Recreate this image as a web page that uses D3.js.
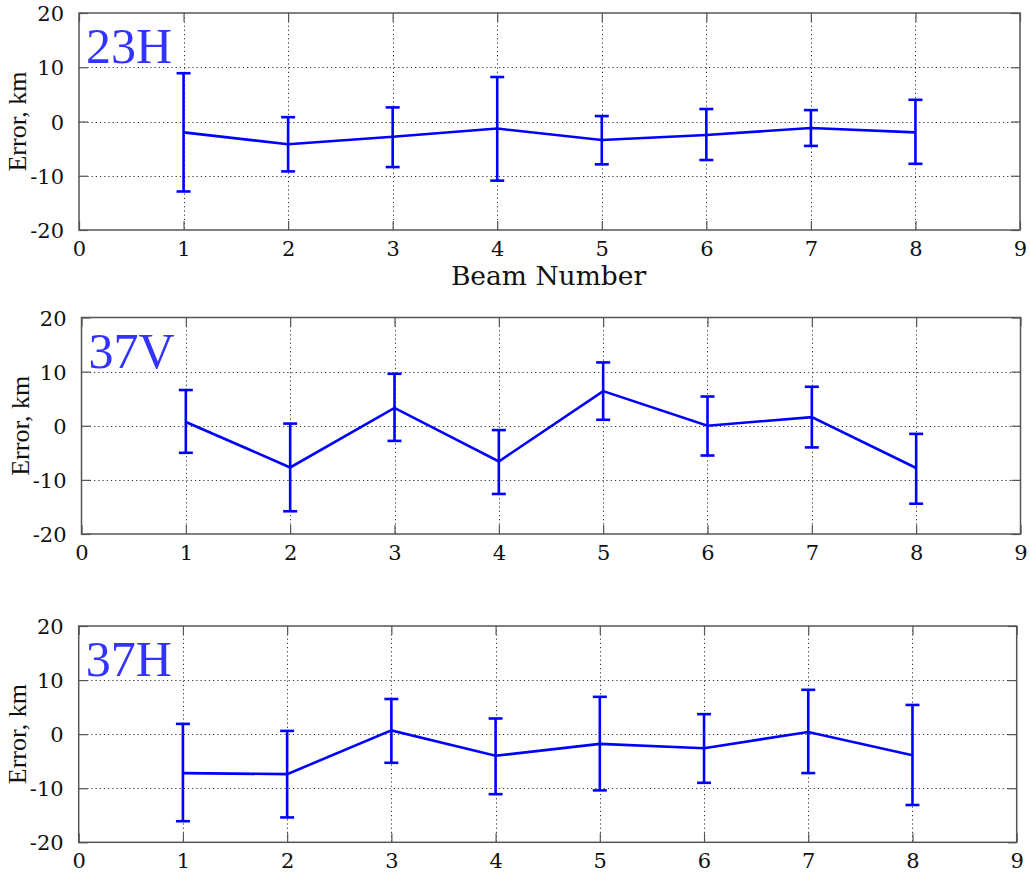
<!DOCTYPE html>
<html>
<head>
<meta charset="utf-8">
<script src="https://cdn.jsdelivr.net/npm/d3@7"></script>
<style>
  html, body { margin: 0; padding: 0; background: #fff; }
  svg { display: block; }
</style>
</head>
<body>
<svg id="chart" width="1030" height="878"></svg>
<script>
// ---- Data ----
const beams = [1, 2, 3, 4, 5, 6, 7, 8];
const xTickValues = [0, 1, 2, 3, 4, 5, 6, 7, 8, 9];
const yTickValues = [-20, -10, 0, 10, 20];
const panelNames = ["23H", "37V", "37H"];

const mean23H  = [-2.0, -4.2, -2.8, -1.3, -3.4, -2.5, -1.2, -2.0];
const upper23H = [8.9, 0.8, 2.6, 8.2, 1.0, 2.3, 2.1, 4.0];
const lower23H = [-12.9, -9.2, -8.4, -10.9, -7.9, -7.1, -4.5, -7.8];

const mean37V  = [0.7, -7.7, 3.3, -6.6, 6.4, 0.0, 1.6, -7.8];
const upper37V = [6.6, 0.4, 9.6, -0.8, 11.7, 5.4, 7.2, -1.5];
const lower37V = [-5.0, -15.8, -2.8, -12.6, 1.1, -5.5, -4.0, -14.4];

const mean37H  = [-7.2, -7.4, 0.7, -4.0, -1.8, -2.6, 0.4, -3.9];
const upper37H = [1.9, 0.6, 6.5, 2.9, 6.9, 3.7, 8.2, 5.4];
const lower37H = [-16.1, -15.4, -5.3, -11.1, -10.4, -9.0, -7.2, -13.1];

const yLabel = "Error, km";
const xLabel = "Beam Number";

// ---- Layout (pixel frames for each panel) ----
const frames = [
  { x0: 79,   x1: 1020, y0: 13,    y1: 230,   xlabel: true },
  { x0: 81.5, x1: 1020.5, y0: 317.5, y1: 534, xlabel: false },
  { x0: 78.7, x1: 1016.7, y0: 626,  y1: 842.3, xlabel: false }
];
const seriesList = [
  { mean: mean23H, upper: upper23H, lower: lower23H },
  { mean: mean37V, upper: upper37V, lower: lower37V },
  { mean: mean37H, upper: upper37H, lower: lower37H }
];

const svg = d3.select("#chart");
const tickFont = "'DejaVu Serif', serif";
const frameColor = "#555";
const fmt = d => String(d); // plain hyphen minus like the reference

frames.forEach((f, i) => {
  const s = seriesList[i];
  const x = d3.scaleLinear().domain([0, 9]).range([f.x0, f.x1]);
  const y = d3.scaleLinear().domain([-20, 20]).range([f.y1, f.y0]);
  const g = svg.append("g");

  // grid
  const grid = g.append("g").attr("stroke", "#333").attr("stroke-width", 1)
    .attr("stroke-dasharray", "1.2,3");
  grid.selectAll("line.vx").data(xTickValues.slice(1, -1)).join("line")
    .attr("x1", d => Math.round(x(d)) + 0.5).attr("x2", d => Math.round(x(d)) + 0.5)
    .attr("y1", f.y0).attr("y2", f.y1);
  grid.selectAll("line.hy").data(yTickValues.slice(1, -1)).join("line")
    .attr("x1", f.x0).attr("x2", f.x1)
    .attr("y1", d => Math.round(y(d)) + 0.5).attr("y2", d => Math.round(y(d)) + 0.5);

  // axes (ticks inward)
  const tl = 9;
  const axB = g.append("g").attr("transform", `translate(0,${f.y1})`)
    .call(d3.axisBottom(x).tickValues(xTickValues).tickSize(-tl).tickPadding(tl + 13).tickFormat(fmt));
  const axL = g.append("g").attr("transform", `translate(${f.x0},0)`)
    .call(d3.axisLeft(y).tickValues(yTickValues).tickSize(-tl).tickPadding(tl + 6).tickFormat(fmt));
  const axT = g.append("g").attr("transform", `translate(0,${f.y0})`)
    .call(d3.axisTop(x).tickValues(xTickValues).tickSize(-tl).tickFormat(""));
  const axR = g.append("g").attr("transform", `translate(${f.x1},0)`)
    .call(d3.axisRight(y).tickValues(yTickValues).tickSize(-tl).tickFormat(""));
  [axB, axL, axT, axR].forEach(a => {
    a.select(".domain").remove();
    a.selectAll(".tick line").attr("stroke", frameColor).attr("stroke-width", 1.2);
    a.selectAll("text").attr("font-family", tickFont).attr("font-size", 21).attr("fill", "#111");
  });
  axB.selectAll("text").attr("dy", "0.2em");
  axL.selectAll("text").attr("dy", "0.36em");

  // frame
  g.append("rect").attr("x", f.x0).attr("y", f.y0)
    .attr("width", f.x1 - f.x0).attr("height", f.y1 - f.y0)
    .attr("fill", "none").attr("stroke", frameColor).attr("stroke-width", 1.5);

  // y label
  g.append("text")
    .attr("transform", `translate(${f.x0 - 53},${(f.y0 + f.y1) / 2}) rotate(-90)`)
    .attr("text-anchor", "middle")
    .attr("font-family", "'Liberation Serif', serif").attr("font-size", 26)
    .attr("fill", "#111").text(yLabel);

  // panel name
  g.append("text")
    .attr("x", f.x0 + 7).attr("y", f.y0 + 50)
    .attr("font-family", "'Liberation Serif', serif").attr("font-size", 50)
    .attr("fill", "#3333ff").text(panelNames[i]);

  // x label
  if (f.xlabel) {
    g.append("text").attr("x", (f.x0 + f.x1) / 2 - 1).attr("y", f.y1 + 55)
      .attr("text-anchor", "middle")
      .attr("font-family", "'DejaVu Serif', serif").attr("font-size", 26.5)
      .attr("fill", "#111").text(xLabel);
  }

  // data line
  const pts = beams.map((b, k) => ({ b, m: s.mean[k], u: s.upper[k], l: s.lower[k] }));
  g.append("path").datum(pts)
    .attr("fill", "none").attr("stroke", "#0000ff").attr("stroke-width", 2.6)
    .attr("d", d3.line().x(d => x(d.b)).y(d => y(d.m)));

  // error bars
  const eb = g.append("g").attr("stroke", "#0000ff").attr("stroke-width", 2.6);
  const cap = 7;
  eb.selectAll("line.v").data(pts).join("line")
    .attr("x1", d => x(d.b)).attr("x2", d => x(d.b))
    .attr("y1", d => y(d.u)).attr("y2", d => y(d.l));
  eb.selectAll("line.cu").data(pts).join("line")
    .attr("x1", d => x(d.b) - cap).attr("x2", d => x(d.b) + cap)
    .attr("y1", d => y(d.u)).attr("y2", d => y(d.u));
  eb.selectAll("line.cl").data(pts).join("line")
    .attr("x1", d => x(d.b) - cap).attr("x2", d => x(d.b) + cap)
    .attr("y1", d => y(d.l)).attr("y2", d => y(d.l));
});
</script>
</body>
</html>
